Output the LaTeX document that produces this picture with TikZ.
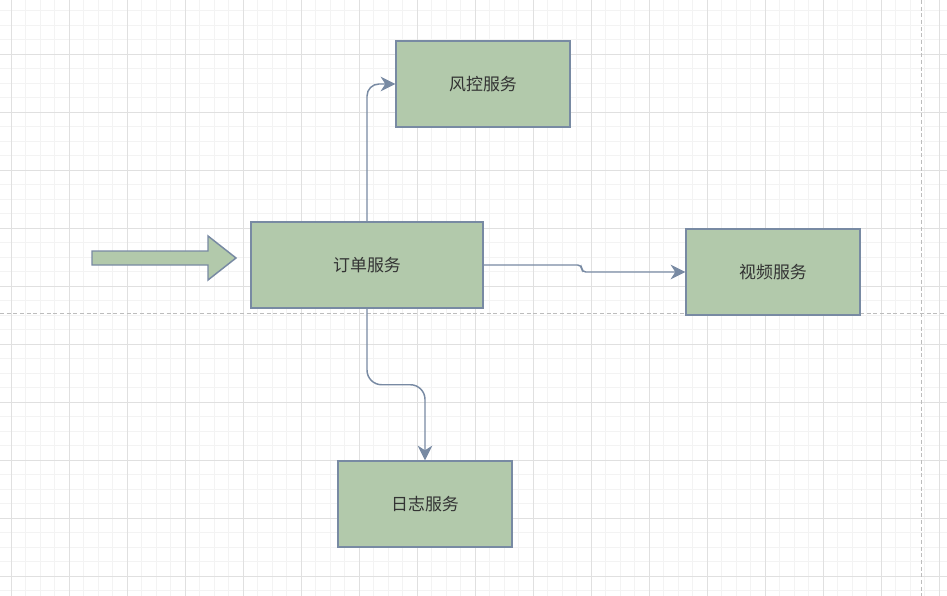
\documentclass[tikz,border=0pt]{standalone}
\usepackage{fontspec}
\newfontfamily\cjk{Noto Sans CJK SC}
\usetikzlibrary{arrows.meta}
\definecolor{boxfill}{HTML}{B2C9AB}
\definecolor{boxline}{HTML}{788AA3}
\definecolor{textgray}{HTML}{333333}
\definecolor{gridminor}{HTML}{F3F3F3}
\definecolor{gridmajor}{HTML}{E0E0E0}
\definecolor{pageline}{HTML}{BDBDBD}

\tikzset{
    svcbox/.style={draw=boxline, fill=boxfill, line width=1.1pt,
        minimum width=130.5pt, minimum height=64.5pt,
        font=\cjk\fontsize{12.7}{15}\selectfont, text=textgray},
    flow/.style={draw=boxline, line width=1.1pt, -{Stealth[length=11pt, width=11pt, inset=3.5pt]}},
}

\begin{document}
\begin{tikzpicture}[x=0.75pt, y=-0.75pt]
    \useasboundingbox (0,0) rectangle (947,596);
    \fill[white] (0,0) rectangle (947,596);

    % Grid
    \foreach \k in {0,...,64}
        \draw[gridminor, line width=0.75pt] ({11+14.5*\k},0) -- ({11+14.5*\k},596);
    \foreach \k in {0,...,40}
        \draw[gridminor, line width=0.75pt] (0,{10.5+14.5*\k}) -- (947,{10.5+14.5*\k});
    \foreach \k in {0,...,16}
        \draw[gridmajor, line width=0.75pt] ({11+58*\k},0) -- ({11+58*\k},596);
    \foreach \k in {0,...,9}
        \draw[gridmajor, line width=0.75pt] (0,{54+58*\k}) -- (947,{54+58*\k});

    % Page break lines
    \draw[pageline, line width=0.75pt, dash pattern=on 3pt off 2pt] (0,313) -- (947,313);
    \draw[pageline, line width=0.75pt, dash pattern=on 3pt off 2pt] (921.5,0) -- (921.5,596);

    % Entry arrow
    \draw[boxline, fill=boxfill, line width=1.1pt] (92,251) -- (208,251) -- (208,236)
        -- (236,258) -- (208,280) -- (208,265) -- (92,265) -- cycle;

    % Services
    \node[svcbox, minimum width=174pt] (order) at (367,265) {订单服务};
    \node[svcbox] (risk) at (483,84) {风控服务};
    \node[svcbox] (video) at (773,272) {视频服务};
    \node[svcbox] (log) at (425,504) {日志服务};

    % Calls
    \draw[flow, rounded corners=9pt] (order.north) |- (risk.west);
    \draw[flow, rounded corners=3pt] (order.east) -- ++(98,0) -- ++(0,7) -- (video.west);
    \draw[flow, rounded corners=11pt] (order.south) -- ++(0,76) -| (log.north);
\end{tikzpicture}
\end{document}
